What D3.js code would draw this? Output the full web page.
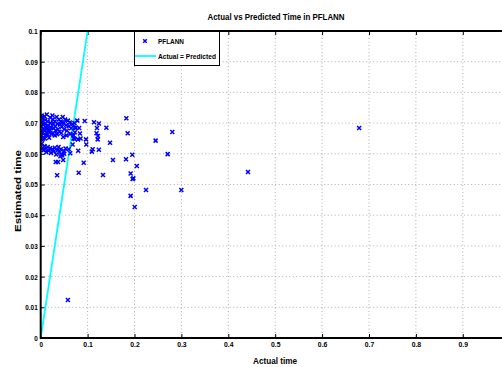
<!DOCTYPE html>
<html>
<head>
<meta charset="utf-8">
<script src="https://cdn.jsdelivr.net/npm/d3@7"></script>
<style>
  html, body { margin: 0; padding: 0; background: #fff; overflow: hidden; }
  svg { display: block; }
  text { font-family: "Liberation Sans", Arial, sans-serif; font-weight: bold; fill: #000; }
</style>
</head>
<body>
<svg id="chart" width="502" height="367"></svg>
<script>
// Measured run times (seconds) and the times the model predicted for them
const actualTime = [
  0.002,0.004,0.003,0.005,0.002,0.006,0.003,0.004,0.002,0.005,0.003,
  0.008,0.010,0.009,0.011,0.008,0.012,0.010,0.009,
  0.013,0.015,0.016,0.014,0.017,0.015,0.018,
  0.020,0.021,0.022,0.020,0.023,
  0.025,0.026,0.027,0.028,0.026,
  0.030,0.031,0.032,0.030,
  0.034,0.036,0.037,0.035,
  0.039,0.041,0.040,0.043,0.045,0.044,
  0.047,0.049,0.050,0.052,0.054,0.056,0.058,0.060,0.062,0.065,0.068,
  0.072,0.075,0.078,0.055,0.048,0.063,0.070,
  0.002,0.004,0.006,0.008,0.010,0.012,0.015,0.017,0.020,0.022,0.025,
  0.028,0.030,0.033,0.036,0.040,0.043,0.046,0.050,0.053,0.042,0.038,
  0.060,0.063,0.032,0.037,0.048,0.035,0.045,0.050,
  0.0724,0.073,0.082,0.0724,0.070,0.0795,0.0838,0.0966,0.085,
  0.0938,0.1136,0.124,0.119,0.122,0.1215,0.120,
  0.0972,0.1108,0.124,0.080,0.109,0.068,0.0917,0.081,0.058,
  0.1826,0.140,0.1855,0.2806,0.1478,0.245,0.1953,0.2707,0.154,0.1819,
  0.205,0.1918,0.1975,0.196,0.2245,0.2998,0.1918,0.2004,0.1328,
  0.442,0.679
];
const estimatedTime = [
  0.0725,0.0715,0.0705,0.0695,0.0690,0.0680,0.0675,0.0668,0.0660,0.0650,0.0645,
  0.0722,0.0710,0.0698,0.0688,0.0678,0.0670,0.0660,0.0650,
  0.0728,0.0705,0.0692,0.0682,0.0673,0.0662,0.0652,
  0.0718,0.0700,0.0686,0.0676,0.0665,
  0.0725,0.0712,0.0697,0.0683,0.0668,
  0.0705,0.0690,0.0675,0.0660,
  0.0720,0.0698,0.0680,0.0664,
  0.0712,0.0695,0.0672,0.0705,0.0688,0.0668,
  0.0720,0.0700,0.0680,0.0712,0.0693,0.0675,0.0708,0.0690,0.0702,0.0683,0.0696,
  0.0700,0.0685,0.0708,0.0660,0.0655,0.0665,0.0660,
  0.0632,0.0620,0.0612,0.0625,0.0615,0.0605,0.0622,0.0610,0.0618,0.0603,0.0615,
  0.0608,0.0620,0.0598,0.0612,0.0605,0.0615,0.0598,0.0608,0.0617,0.0592,0.0622,
  0.0615,0.0602,0.0573,0.0573,0.0580,0.0530,0.0595,0.0600,
  0.0685,0.0670,0.0684,0.0648,0.0650,0.0647,0.0666,0.0647,0.0650,
  0.0707,0.0703,0.0699,0.0667,0.0658,0.0647,0.0684,
  0.0630,0.0615,0.0613,0.0610,0.0607,0.0630,0.0571,0.0538,0.0124,
  0.0716,0.0685,0.0667,0.0671,0.0636,0.0643,0.0597,0.0599,0.0580,0.0582,
  0.0560,0.0536,0.0520,0.0518,0.0482,0.0482,0.0463,0.0427,0.0531,
  0.0541,0.0684
];
const xTicks = [0, 0.1, 0.2, 0.3, 0.4, 0.5, 0.6, 0.7, 0.8, 0.9];
const xTickLabels = ["0", "0.1", "0.2", "0.3", "0.4", "0.5", "0.6", "0.7", "0.8", "0.9"];
const yTicks = [0, 0.01, 0.02, 0.03, 0.04, 0.05, 0.06, 0.07, 0.08, 0.09, 0.1];
const yTickLabels = ["0", "0.01", "0.02", "0.03", "0.04", "0.05", "0.06", "0.07", "0.08", "0.09", "0.1"];
const identityLine = [[0, 0], [1, 1]];

const svg = d3.select("#chart");
const plotLeft = 40.7, plotRight = 509.7, plotTop = 31, plotBottom = 338;

const x = d3.scaleLinear().domain([0, 1]).range([plotLeft, plotRight]);
const y = d3.scaleLinear().domain([0, 0.1]).range([plotBottom, plotTop]);

svg.append("defs").append("clipPath").attr("id", "plotClip")
  .append("rect").attr("x", plotLeft).attr("y", plotTop)
  .attr("width", plotRight - plotLeft).attr("height", plotBottom - plotTop);

// Dotted grid
const grid = svg.append("g").attr("stroke", "#9a9a9a").attr("stroke-width", 0.8)
  .attr("stroke-dasharray", "1,2.5");
grid.selectAll("line.gx").data(xTicks.slice(1)).join("line")
  .attr("x1", d => x(d)).attr("x2", d => x(d)).attr("y1", plotTop).attr("y2", plotBottom);
grid.selectAll("line.gy").data(yTicks.slice(1, -1)).join("line")
  .attr("y1", d => y(d)).attr("y2", d => y(d)).attr("x1", plotLeft).attr("x2", plotRight);

// Axes with inward ticks
const xAxis = d3.axisBottom(x).tickValues(xTicks).tickSizeInner(-4).tickSizeOuter(0)
  .tickFormat((d, i) => xTickLabels[i]);
const gx = svg.append("g").attr("transform", `translate(0,${plotBottom})`).call(xAxis);
gx.select(".domain").remove();
gx.selectAll(".tick line").attr("stroke", "#000").attr("stroke-width", 1);
gx.selectAll(".tick text").attr("y", 4).attr("dy", "0.71em")
  .style("font-size", "7.5px")
  .each(function () { const t = d3.select(this); t.attr("textLength", t.text().length > 1 ? 9.5 : 3.5).attr("lengthAdjust", "spacingAndGlyphs"); });

const xTop = d3.axisTop(x).tickValues(xTicks).tickSizeInner(-4).tickSizeOuter(0).tickFormat("");
const gxt = svg.append("g").attr("transform", `translate(0,${plotTop})`).call(xTop);
gxt.select(".domain").remove();
gxt.selectAll(".tick line").attr("stroke", "#000");

const yAxis = d3.axisLeft(y).tickValues(yTicks).tickSizeInner(-4).tickSizeOuter(0)
  .tickFormat((d, i) => yTickLabels[i]);
const gy = svg.append("g").attr("transform", `translate(${plotLeft},0)`).call(yAxis);
gy.select(".domain").remove();
gy.selectAll(".tick line").attr("stroke", "#000");
gy.selectAll(".tick text").attr("x", -3).style("font-size", "7.5px")
  .each(function () { const t = d3.select(this); const n = t.text().length; t.attr("textLength", n === 1 ? 3.5 : n * 3.1).attr("lengthAdjust", "spacingAndGlyphs"); });

// Identity reference line
svg.append("path").datum(identityLine)
  .attr("clip-path", "url(#plotClip)")
  .attr("fill", "none").attr("stroke", "#00ffff").attr("stroke-width", 1.8)
  .attr("d", d3.line().x(d => x(d[0])).y(d => y(d[1])));

// Scatter of predictions as x markers
const s = 2;
const pts = svg.append("g").attr("clip-path", "url(#plotClip)")
  .attr("stroke", "#0000ff").attr("stroke-width", 1.5).attr("fill", "none");
pts.selectAll("path").data(actualTime.map((a, i) => [a, estimatedTime[i]])).join("path")
  .attr("d", d => {
    const px = x(d[0]), py = y(d[1]);
    return `M${px - s},${py - s}L${px + s},${py + s}M${px - s},${py + s}L${px + s},${py - s}`;
  });

// Frame (left, bottom, top)
svg.append("path").attr("fill", "none").attr("stroke", "#000").attr("stroke-width", 2)
  .attr("d", `M${plotRight},${plotTop}H${plotLeft}V${plotBottom}H${plotRight}`);

// Legend
const lg = svg.append("g");
lg.append("rect").attr("x", 134.5).attr("y", 31.5).attr("width", 85).attr("height", 34)
  .attr("fill", "#fff").attr("stroke", "#000").attr("stroke-width", 1);
lg.append("path")
  .attr("d", `M${145 - 1.8},${41 - 1.8}L${145 + 1.8},${41 + 1.8}M${145 - 1.8},${41 + 1.8}L${145 + 1.8},${41 - 1.8}`)
  .attr("stroke", "#0000ff").attr("stroke-width", 1.5);
lg.append("text").attr("x", 158).attr("y", 44).style("font-size", "8px")
  .attr("textLength", 26).attr("lengthAdjust", "spacingAndGlyphs").text("PFLANN");
lg.append("line").attr("x1", 135).attr("x2", 156).attr("y1", 56).attr("y2", 56)
  .attr("stroke", "#00ffff").attr("stroke-width", 1.8);
lg.append("text").attr("x", 158).attr("y", 59).style("font-size", "8px")
  .attr("textLength", 58).attr("lengthAdjust", "spacingAndGlyphs").text("Actual = Predicted");

// Title and axis labels
svg.append("text").attr("x", 276).attr("y", 20).attr("text-anchor", "middle")
  .style("font-size", "9.5px").attr("textLength", 137).attr("lengthAdjust", "spacingAndGlyphs")
  .text("Actual vs Predicted Time in PFLANN");
svg.append("text").attr("x", 275).attr("y", 364).attr("text-anchor", "middle")
  .style("font-size", "9.5px").attr("textLength", 44).attr("lengthAdjust", "spacingAndGlyphs")
  .text("Actual time");
svg.append("text").attr("transform", "translate(21,191) rotate(-90)").attr("text-anchor", "middle")
  .style("font-size", "9.5px").attr("textLength", 82).attr("lengthAdjust", "spacingAndGlyphs")
  .text("Estimated time");
</script>
</body>
</html>
